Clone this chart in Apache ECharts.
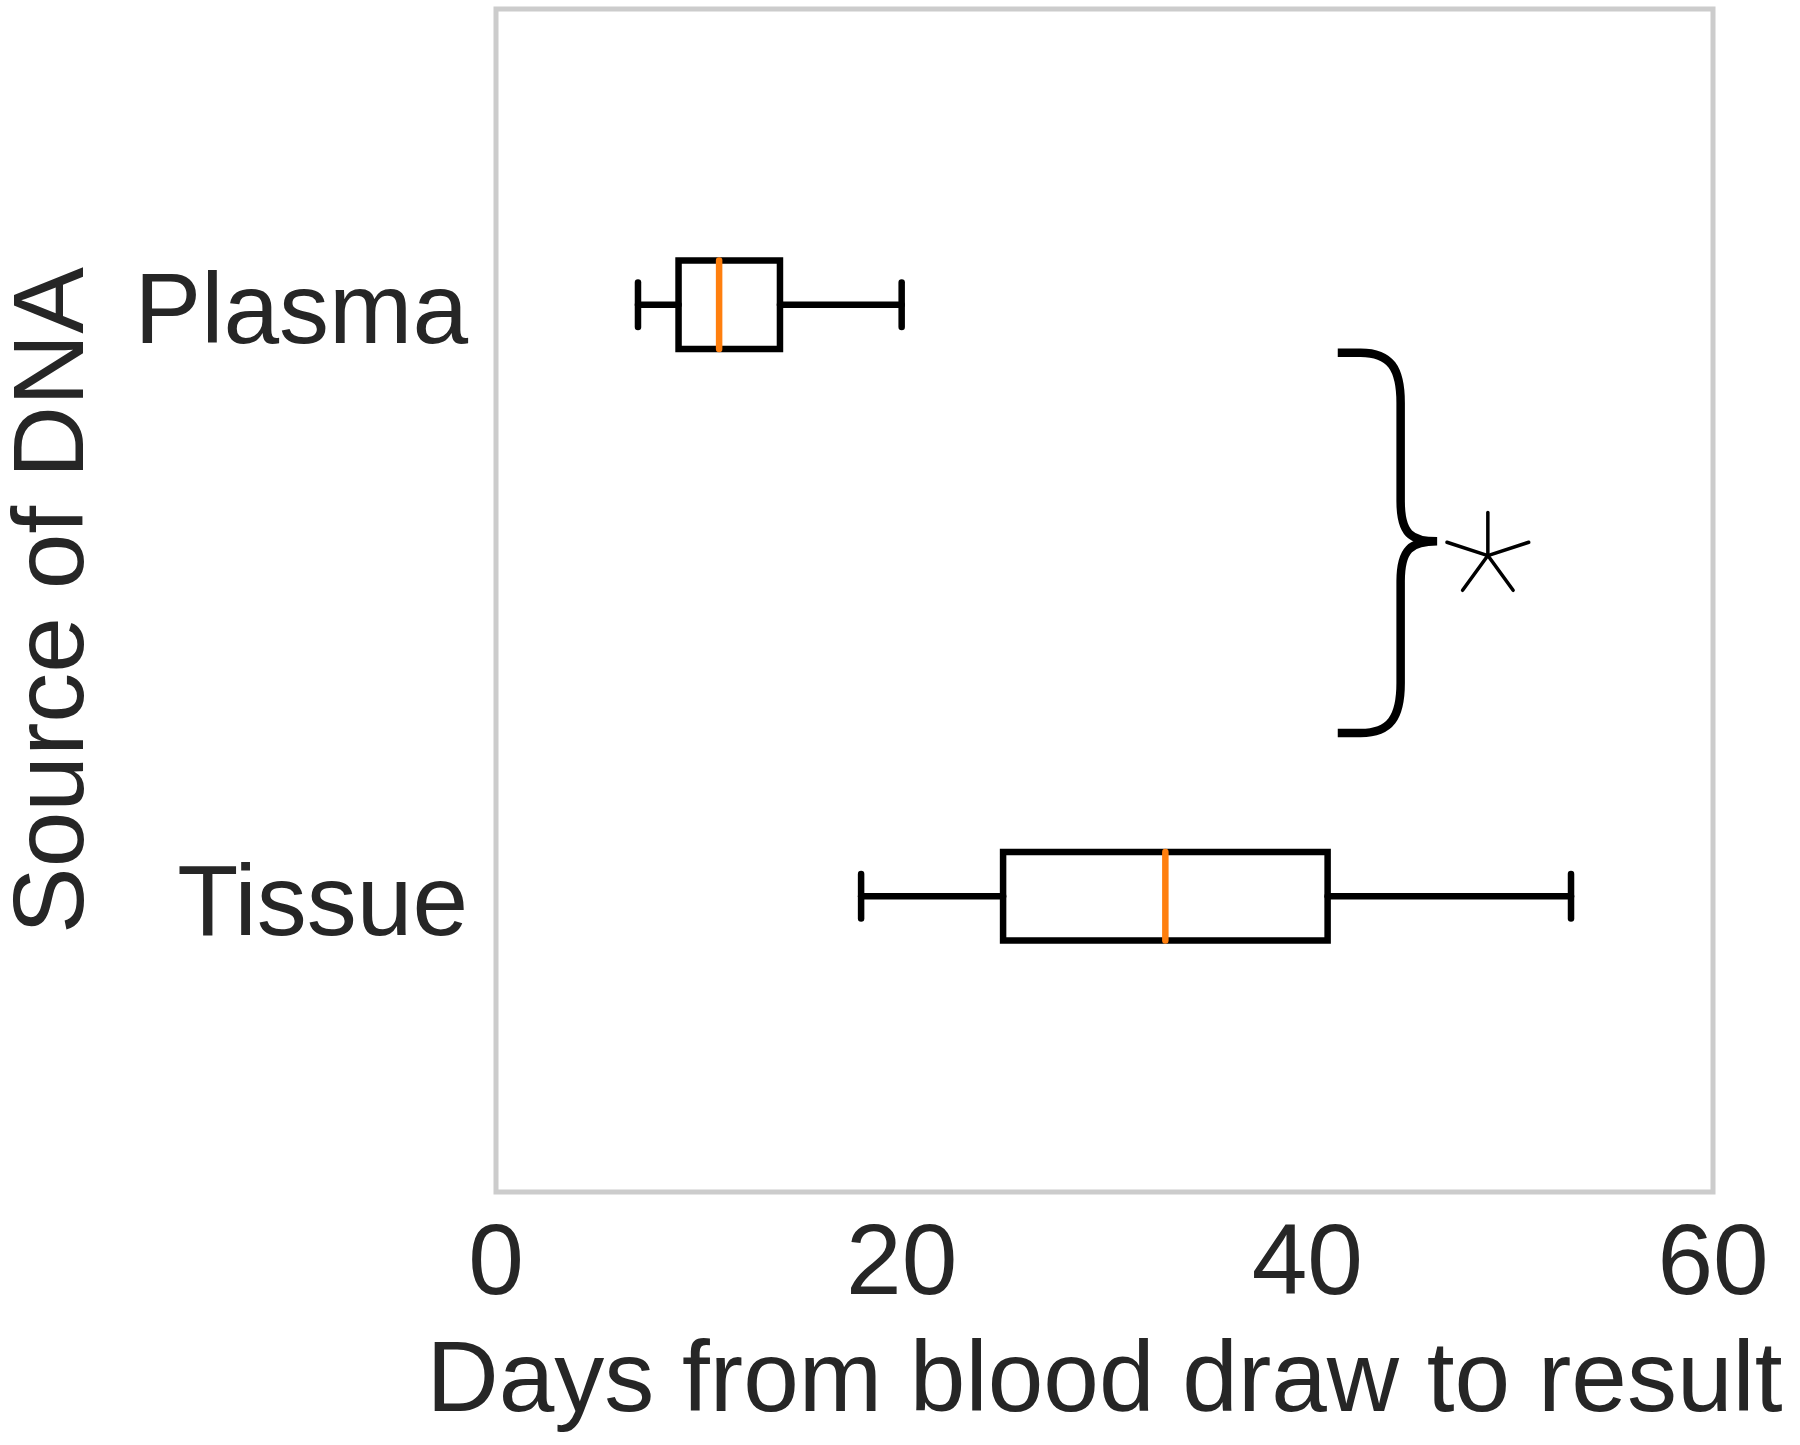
<!DOCTYPE html>
<html>
<head>
<meta charset="utf-8">
<script src="https://cdn.jsdelivr.net/npm/echarts@6/dist/echarts.min.js"></script>
<style>
  html, body { margin: 0; padding: 0; background: #fff; }
  #main { width: 1800px; height: 1445px; }
</style>
</head>
<body>
<div id="main"></div>
<script>
// categories, top to bottom
var sources = ['Plasma', 'Tissue'];
// [min, q1, median, q3, max] in days
var plasmaStats = [7, 9, 11, 14, 20];
var tissueStats = [18, 25, 33, 41, 53];
var xTicks = [0, 20, 40, 60];

var textColor = '#262626';
var chart = echarts.init(document.getElementById('main'));

var boxData = [
  [0].concat(plasmaStats),
  [1].concat(tissueStats)
];

// box with whiskers, caps half as wide as the box, orange median
function renderBox(params, api) {
  var cat = api.value(0);
  var lo = api.coord([api.value(1), cat]);
  var q1 = api.coord([api.value(2), cat]);
  var med = api.coord([api.value(3), cat]);
  var q3 = api.coord([api.value(4), cat]);
  var hi = api.coord([api.value(5), cat]);
  var band = api.size([0, 1])[1];
  var bh = band * 0.15 / 2;
  var ch = bh / 2;
  var y = lo[1];
  var ls = { stroke: '#000', lineWidth: 6.5, fill: null, lineCap: 'round' };
  return {
    type: 'group',
    children: [
      { type: 'line', shape: { x1: lo[0], y1: y, x2: q1[0], y2: y }, style: ls },
      { type: 'line', shape: { x1: q3[0], y1: y, x2: hi[0], y2: y }, style: ls },
      { type: 'line', shape: { x1: lo[0], y1: y - ch, x2: lo[0], y2: y + ch }, style: ls },
      { type: 'line', shape: { x1: hi[0], y1: y - ch, x2: hi[0], y2: y + ch }, style: ls },
      { type: 'rect', shape: { x: q1[0], y: y - bh, width: q3[0] - q1[0], height: bh * 2 }, style: ls },
      { type: 'line', shape: { x1: med[0], y1: y - bh, x2: med[0], y2: y + bh },
        style: { stroke: '#ff7f0e', lineWidth: 6.5, lineCap: 'round' } }
    ]
  };
}

// curly brace + asterisk between the two groups
function renderBrace(params, api) {
  var a = api.coord([41.5, 0]);
  var b = api.coord([41.5, 1]);
  var span = b[1] - a[1];
  var x0 = a[0];
  var xv = api.coord([44.6, 0])[0];
  var xt = api.coord([46.4, 0])[0];
  var top = a[1] + span * 0.081;
  var mid = a[1] + span * 0.40;
  var bot = a[1] + span * 0.724;
  var path = 'M' + x0 + ',' + top + ' L' + (xv - 40) + ',' + top +
    ' C' + (xv - 10) + ',' + top + ' ' + xv + ',' + (top + 16) + ' ' + xv + ',' + (top + 50) +
    ' L' + xv + ',' + (mid - 40) +
    ' C' + xv + ',' + (mid - 8) + ' ' + (xv + 10) + ',' + mid + ' ' + xt + ',' + mid +
    ' C' + (xv + 10) + ',' + mid + ' ' + xv + ',' + (mid + 8) + ' ' + xv + ',' + (mid + 40) +
    ' L' + xv + ',' + (bot - 50) +
    ' C' + xv + ',' + (bot - 16) + ' ' + (xv - 10) + ',' + bot + ' ' + (xv - 40) + ',' + bot +
    ' L' + x0 + ',' + bot;
  var c = api.coord([48.9, 0]);
  var cy = a[1] + span * 0.424;
  var arms = [];
  for (var i = 0; i < 5; i++) {
    var ang = (-90 + i * 72) * Math.PI / 180;
    arms.push({
      type: 'line',
      shape: { x1: c[0], y1: cy, x2: c[0] + 43 * Math.cos(ang), y2: cy + 43 * Math.sin(ang) },
      style: { stroke: '#000', lineWidth: 3.5, lineCap: 'round' }
    });
  }
  return {
    type: 'group',
    children: [
      { type: 'path', shape: { pathData: path }, style: { stroke: '#000', lineWidth: 8.5, fill: null } }
    ].concat(arms)
  };
}

var option = {
  animation: false,
  backgroundColor: '#fff',
  grid: {
    left: 496, right: 87, top: 9, bottom: 253,
    outerBoundsMode: 'none',
    show: true, borderColor: '#cccccc', borderWidth: 5, backgroundColor: 'transparent'
  },
  xAxis: {
    type: 'value',
    min: xTicks[0], max: xTicks[xTicks.length - 1], interval: 20,
    name: 'Days from blood draw to result',
    nameLocation: 'middle', nameGap: 141,
    nameTextStyle: { fontSize: 100, color: textColor, fontFamily: 'Liberation Sans' },
    axisLine: { show: false }, axisTick: { show: false }, splitLine: { show: false },
    axisLabel: { fontSize: 100, color: textColor, margin: 24, fontFamily: 'Liberation Sans' }
  },
  yAxis: {
    type: 'category',
    data: sources,
    inverse: true,
    name: 'Source of DNA',
    nameLocation: 'middle', nameGap: 391, nameRotate: 90,
    nameTextStyle: { fontSize: 100, color: textColor, fontFamily: 'Liberation Sans' },
    axisLine: { show: false }, axisTick: { show: false }, splitLine: { show: false },
    axisLabel: {
      margin: 28,
      formatter: '{c|{value}}',
      rich: {
        c: { fontSize: 100, color: textColor, fontFamily: 'Liberation Sans', padding: [22, 0, 0, 0] }
      }
    }
  },
  series: [{
    type: 'custom',
    renderItem: renderBox,
    encode: { x: [1, 2, 3, 4, 5], y: 0 },
    data: boxData
  }, {
    type: 'custom',
    renderItem: renderBrace,
    encode: { x: 1, y: 0 },
    data: [[0, 45]],
    clip: false
  }]
};
chart.setOption(option);
</script>
</body>
</html>
